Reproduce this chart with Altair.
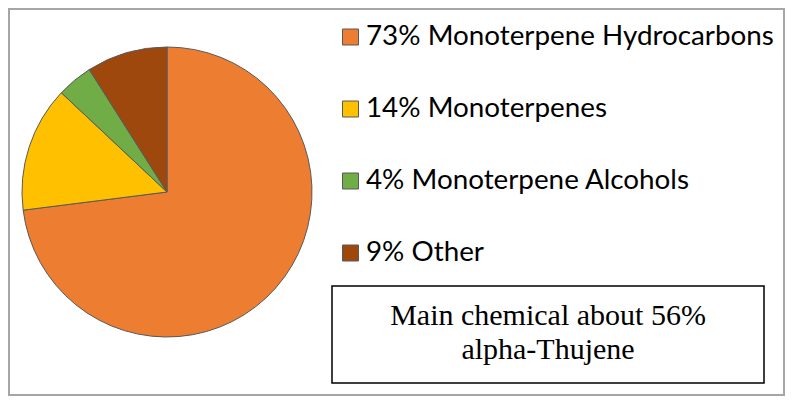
import altair as alt
import pandas as pd

labels = ["73% Monoterpene Hydrocarbons", "14% Monoterpenes", "4% Monoterpene Alcohols", "9% Other"]
values = [73, 14, 4, 9]
colors = ["#ED7D31", "#FFC000", "#70AD47", "#9E480E"]
note_lines = ["Main chemical about 56%", "alpha-Thujene"]

df = pd.DataFrame({"label": labels, "value": values, "idx": list(range(len(labels)))})
notes = pd.DataFrame({"line": note_lines, "row": list(range(len(note_lines)))})

W, H = 777, 388

color_scale = alt.Scale(domain=labels, range=colors)

border = alt.Chart(pd.DataFrame({"a": [0]})).mark_rect(
    fill="white", stroke="#a6a6a6", strokeWidth=2
).encode(x=alt.value(1), x2=alt.value(W - 1), y=alt.value(1), y2=alt.value(H - 1))

pie = alt.Chart(df).mark_arc(outerRadius=145, stroke="#595959", strokeWidth=1).encode(
    theta=alt.Theta("value:Q", stack=True),
    order=alt.Order("idx:Q"),
    color=alt.Color("label:N", scale=color_scale, legend=None),
    x=alt.value(159),
    y=alt.value(184),
)

leg_y = alt.Y("label:N", sort=labels, scale=alt.Scale(type="point", range=[29, 245], padding=0), axis=None)

swatch = alt.Chart(df).mark_square(size=256, stroke="#595959", strokeWidth=1, opacity=1).encode(
    x=alt.value(342.5),
    y=leg_y,
    color=alt.Color("label:N", scale=color_scale, legend=None),
)

leg_text = alt.Chart(df).mark_text(
    align="left", baseline="middle", font="Lato", fontSize=27.8, color="#000000"
).encode(x=alt.value(358), y=leg_y, text="label:N")

box = alt.Chart(pd.DataFrame({"a": [0]})).mark_rect(
    fill="white", stroke="#000000", strokeWidth=1.5
).encode(x=alt.value(324), x2=alt.value(756), y=alt.value(278), y2=alt.value(375))

note = alt.Chart(notes).mark_text(
    align="center", baseline="alphabetic", font="Liberation Serif", fontSize=30, color="#000000"
).encode(
    x=alt.value(540),
    y=alt.Y("row:O", scale=alt.Scale(type="point", range=[317, 351], padding=0), axis=None),
    text="line:N",
)

chart = alt.layer(border, pie, swatch, leg_text, box, note).resolve_scale(y="independent").properties(
    width=W, height=H, padding=0, autosize=alt.AutoSizeParams(type="none"), background="white"
).configure_view(stroke=None)

chart.save("out.html", embed_options={"renderer": "svg", "actions": False})
